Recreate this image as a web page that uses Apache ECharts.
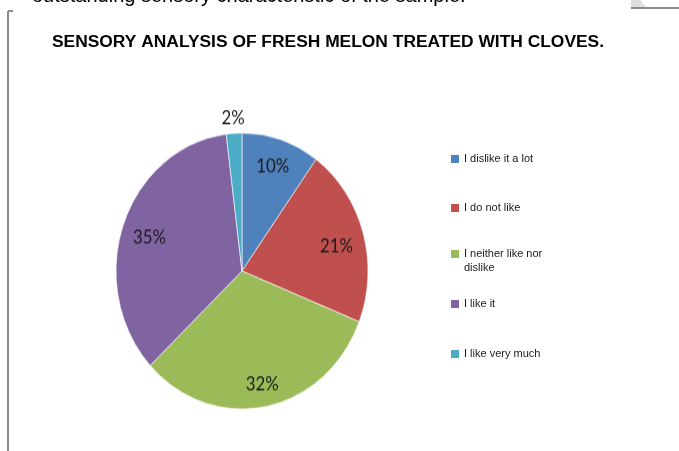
<!DOCTYPE html>
<html>
<head>
<meta charset="utf-8">
<script src="https://cdn.jsdelivr.net/npm/echarts@6/dist/echarts.min.js"></script>
<style>
html,body{margin:0;padding:0;background:#fff;}
#wrap{position:relative;width:679px;height:451px;overflow:hidden;}
#c{position:absolute;left:0;top:0;width:679px;height:451px;}
#p{position:absolute;left:0;top:0;width:440px;height:451px;transform-origin:242px 271px;transform:scaleY(1.0952);}
</style>
</head>
<body>
<div id="wrap">
<div id="c"></div>
<div id="p"></div>
</div>
<script>
var categories = ['I dislike it a lot', 'I do not like', 'I neither like nor dislike', 'I like it', 'I like very much'];
var values = [10, 21, 32, 35, 2];
var colors = ['#4F81BD', '#C0504D', '#9BBB59', '#8064A2', '#4BACC6'];
var legendLabels = ['I dislike it a lot', 'I do not like', 'I neither like nor\ndislike', 'I like it', 'I like very much'];
var legendCenters = [159, 208, 254, 304, 354];
var labelOffsets = [[-1, 2], [-4, 6], [1, 3], [4, 4], [0, 3]];

var main = echarts.init(document.getElementById('c'));
var pie = echarts.init(document.getElementById('p'));
var R = 126;
var center = [242, 271];
var labelFont = { fontFamily: 'Lato, "Open Sans", sans-serif', fontSize: 16.8, color: '#1a1a1a' };

var legends = categories.map(function (n, i) {
  var twoLine = legendLabels[i].indexOf('\n') >= 0;
  return {
    data: [{ name: n, itemStyle: { color: colors[i] } }],
    orient: 'vertical',
    left: 451,
    top: legendCenters[i] - 7,
    padding: 0,
    itemWidth: 8,
    itemHeight: twoLine ? 22 : 8,
    itemGap: 0,
    icon: twoLine ? 'path://M0,0L8,0L8,8L0,8Z M0,22L0.01,22L0.01,22.01Z' : 'rect',
    selectedMode: false,
    formatter: function () { return legendLabels[i]; },
    textStyle: {
      fontFamily: '"Liberation Sans Narrow", "Liberation Sans", Arial, sans-serif',
      fontSize: 11,
      color: '#1a1a1a',
      lineHeight: 14
    }
  };
});

main.setOption({
  animation: false,
  backgroundColor: '#fff',
  title: {
    text: 'SENSORY ANALYSIS OF FRESH MELON TREATED WITH CLOVES.',
    left: 323,
    textAlign: 'center',
    top: 29,
    textStyle: {
      fontFamily: '"Liberation Sans", Arial, sans-serif',
      fontWeight: 'bold',
      fontSize: 17.4,
      color: '#000'
    }
  },
  legend: legends,
  series: [{ type: 'pie', radius: 0, center: [-100, -100], data: categories.map(function (n, i) { return { name: n, value: values[i], itemStyle: { color: colors[i] } }; }), label: { show: false }, silent: true }],
  graphic: [
    { type: 'text', left: 32, top: -14, silent: true,
      style: { text: 'outstanding sensory characteristic of the sample.', font: '20px "Liberation Sans", Arial, sans-serif', fill: '#000' } },
    { type: 'line', silent: true, shape: { x1: 8, y1: 11, x2: 8, y2: 451 }, style: { stroke: '#8a8a8a', lineWidth: 2 } },
    { type: 'line', silent: true, shape: { x1: 8, y1: 11, x2: 13, y2: 11 }, style: { stroke: '#8a8a8a', lineWidth: 2 } },
    { type: 'polygon', silent: true, shape: { points: [[631, 0], [640, 0], [646, 7], [631, 7]] }, style: { fill: '#dedede' } },
    { type: 'line', silent: true, shape: { x1: 631, y1: 8, x2: 679, y2: 8 }, style: { stroke: '#8a8a8a', lineWidth: 2 } }
  ]
});

function labelData(show) {
  return categories.map(function (n, i) {
    return { name: n, value: values[i], label: { show: show(values[i]), offset: labelOffsets[i] } };
  });
}

pie.setOption({
  animation: false,
  series: [
    {
      type: 'pie',
      center: center,
      radius: [0, R],
      startAngle: 90,
      clockwise: true,
      silent: true,
      data: categories.map(function (n, i) { return { name: n, value: values[i], itemStyle: { color: colors[i] } }; }),
      itemStyle: { borderColor: '#ffffff', borderWidth: 0.6 },
      label: { show: false },
      labelLine: { show: false }
    },
    {
      type: 'pie',
      center: center,
      radius: [0, R * 1.58],
      startAngle: 90,
      clockwise: true,
      silent: true,
      z: 3,
      data: labelData(function (v) { return v >= 5; }),
      itemStyle: { color: 'rgba(0,0,0,0)' },
      label: Object.assign({ position: 'inside', formatter: '{c}%' }, labelFont),
      labelLine: { show: false }
    },
    {
      type: 'pie',
      center: center,
      radius: [0, R * 2.22],
      startAngle: 90,
      clockwise: true,
      silent: true,
      z: 3,
      data: labelData(function (v) { return v < 5; }),
      itemStyle: { color: 'rgba(0,0,0,0)' },
      label: Object.assign({ position: 'inside', formatter: '{c}%' }, labelFont),
      labelLine: { show: false }
    }
  ]
});
</script>
</body>
</html>
